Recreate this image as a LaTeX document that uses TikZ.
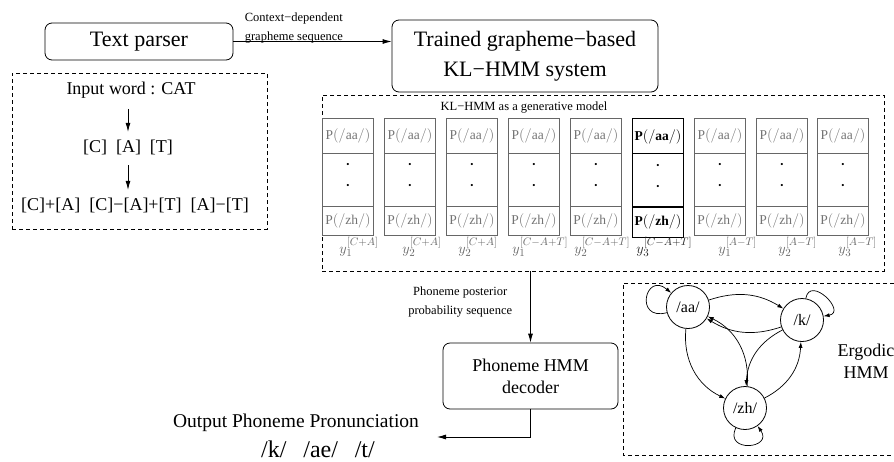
\documentclass[tikz,border=0pt]{standalone}
\usepackage{fontspec}
\setmainfont{Liberation Serif}
\usepackage{tikz}
\usetikzlibrary{positioning,arrows.meta,shapes.multipart}

\newcommand{\dotmark}{{\color{black}\fontsize{9}{9}\selectfont\textbullet}}
\newcommand{\probcells}[1]{\rule[-13pt]{0pt}{34pt}$#1{P(/aa/)}$%
\nodepart{two}\rule[-26pt]{0pt}{52pt}\makebox[0pt]{\raisebox{12pt}{\dotmark}}\makebox[0pt]{\raisebox{-9pt}{\dotmark}}%
\nodepart{three}\rule[-11pt]{0pt}{29pt}$#1{P(/zh/)}$}

\begin{document}
\begin{tikzpicture}[x=1pt, y=-1pt, line width=0.8pt, >={Latex[length=9pt,width=5pt]},
roundbox/.style={rectangle, draw, rounded corners=7pt, align=center, font=\fontsize{22}{30}\selectfont},
dashline/.style={dash pattern=on 4pt off 3pt, line width=0.6pt},
dashbox/.style={rectangle, draw, dashline},
smalltext/.style={align=center, font=\fontsize{12.5}{19}\selectfont, inner sep=1pt},
midtext/.style={align=center, font=\fontsize{18}{22}\selectfont},
probcol/.style={rectangle split, rectangle split parts=3, draw=black!60, text=black!55, text width=51pt, inner sep=0pt, align=center, font=\fontsize{13.5}{15}\selectfont},
probcolbold/.style={probcol, draw=black, text=black, line width=1.2pt},
framelabel/.style={anchor=base west, inner sep=0pt, text=black!60, font=\fontsize{15.5}{17}\selectfont},
phonenode/.style={circle, draw, minimum size=43pt, inner sep=0pt, font=\fontsize{16}{18}\selectfont},
hmmarc/.style={-{Latex[length=6pt,width=4pt]}, line width=0.7pt},
stepline/.style={->, shorten <=7pt, shorten >=4pt},
]
\useasboundingbox (0,0) rectangle (894,461);

%Nodes
\node[roundbox, minimum width=188pt, minimum height=37pt] (parser) at (139,41.5) {Text parser};
\node[roundbox, minimum width=266pt, minimum height=72pt] (trained) at (525,56) {Trained grapheme−based\\KL−HMM system};

\node[dashbox, minimum width=255pt, minimum height=156pt] (inputbox) at (139.5,151) {};
\node[midtext] (word) at (131,90) {Input word : CAT};
\node[midtext] (letters) at (128,147) {[C]\ \ [A]\ \ [T]};
\node[midtext] (context) at (135,205) {[C]+[A]\ \ [C]−[A]+[T]\ \ [A]−[T]};

\node[dashbox, minimum width=562pt, minimum height=176pt] (klbox) at (603,183) {};
\node[smalltext] (kltitle) at (524,108) {KL−HMM as a generative model};

\node[probcol, anchor=north]     (col1) at (348,118) {\probcells{\mathrm}};
\node[probcol, anchor=north]     (col2) at (410,118) {\probcells{\mathrm}};
\node[probcol, anchor=north]     (col3) at (472,118) {\probcells{\mathrm}};
\node[probcol, anchor=north]     (col4) at (534,118) {\probcells{\mathrm}};
\node[probcol, anchor=north]     (col5) at (596,118) {\probcells{\mathrm}};
\node[probcolbold, anchor=north] (col6) at (658,118) {\probcells{\mathbf}};
\node[probcol, anchor=north]     (col7) at (720,118) {\probcells{\mathrm}};
\node[probcol, anchor=north]     (col8) at (782,118) {\probcells{\mathrm}};
\node[probcol, anchor=north]     (col9) at (843,118) {\probcells{\mathrm}};

\node[framelabel] (lab1) at (339,253) {$y_1^{[C+A]}$};
\node[framelabel] (lab2) at (402,253) {$y_2^{[C+A]}$};
\node[framelabel] (lab3) at (458,253) {$y_2^{[C+A]}$};
\node[framelabel] (lab4) at (512,253) {$y_1^{[C-A+T]}$};
\node[framelabel] (lab5) at (574,253) {$y_2^{[C-A+T]}$};
\node[framelabel, text=black!85] (lab6) at (636,253) {$y_3^{[C-A+T]}$};
\node[framelabel] (lab7) at (718,253) {$y_1^{[A-T]}$};
\node[framelabel] (lab8) at (778,253) {$y_2^{[A-T]}$};
\node[framelabel] (lab9) at (838,253) {$y_3^{[A-T]}$};

\node[roundbox, font=\fontsize{18}{22}\selectfont, minimum width=175pt, minimum height=66pt] (decoder) at (530.5,376) {Phoneme HMM\\decoder};
\coordinate (outtip) at (437,437);
\node[font=\fontsize{19.5}{22}\selectfont] (outlabel) at (296,423) {Output Phoneme Pronunciation};
\node[font=\fontsize{24}{26}\selectfont] (outphones) at (318,449) {/k/\hspace{0.7em}/ae/\hspace{0.7em}/t/};

\node[phonenode] (aa) at (688,307) {/aa/};
\node[phonenode] (k)  at (802,320) {/k/};
\node[phonenode] (zh) at (745,408) {/zh/};
\node[midtext] (ergodic) at (866,361) {Ergodic\\HMM};

%Frame
\draw[dashline] (894,283) -- (623,283) -- (623,455) -- (894,455);

%Lines
\draw[->] (parser.east) -- node[smalltext, pos=0, anchor=south west, align=left, xshift=10pt, yshift=-3pt] {Context−dependent\\grapheme sequence} (parser.east -| trained.west);
\draw[stepline] (letters.north |- word.south) -- (letters.north);
\draw[stepline] (letters.south) -- (letters.south |- context.north);
\draw[->] (klbox.south -| decoder.north) -- node[smalltext, pos=0.43, left=17pt] {Phoneme posterior\\probability sequence} (decoder.north);
\draw[->] (decoder.south) |- (outtip);

\draw[hmmarc] (aa) to[bend left=25] (k);
\draw[hmmarc] (k) to[bend left=25] (aa);
\draw[hmmarc] (aa) to[bend right=35] (zh);
\draw[hmmarc] (zh) to[bend right=35] (aa);
\draw[hmmarc] (k) to[bend right=30] (zh);
\draw[hmmarc] (zh) to[bend right=30] (k);
\draw[hmmarc] (aa.195) .. controls +(195:34pt) and +(140:34pt) .. (aa.140);
\draw[hmmarc] (k.80) .. controls +(80:24pt) and +(10:24pt) .. (k.10);
\draw[hmmarc] (zh.245) .. controls +(245:28pt) and +(305:28pt) .. (zh.305);

\end{tikzpicture}
\end{document}
